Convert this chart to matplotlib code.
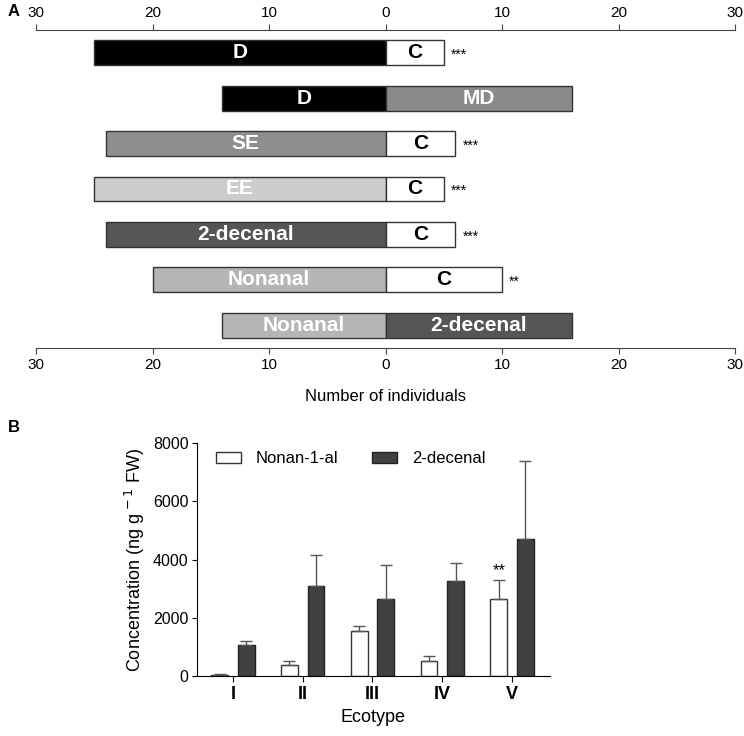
import numpy as np
import matplotlib.pyplot as plt

plt.rcParams['font.family'] = ['Liberation Sans', 'DejaVu Sans']

# panel A: choice tests
left_names = ['D', 'D', 'SE', 'EE', '2-decenal', 'Nonanal', 'Nonanal']
left_counts = [25, 14, 24, 25, 24, 20, 14]
right_names = ['C', 'MD', 'C', 'C', 'C', 'C', '2-decenal']
right_counts = [5, 16, 6, 5, 6, 10, 16]
signif = ['***', '', '***', '***', '***', '**', '']

# panel B: concentrations
ecotypes = ['I', 'II', 'III', 'IV', 'V']
nonanal_mean = [50, 380, 1530, 530, 2650]
nonanal_err = [35, 120, 200, 170, 650]
decenal_mean = [1060, 3100, 2630, 3250, 4720]
decenal_err = [150, 1040, 1170, 630, 2650]

colors = {'D': '#000000', 'C': '#ffffff', 'MD': '#8a8a8a', 'SE': '#8e8e8e',
          'EE': '#cdcdcd', '2-decenal': '#555555', 'Nonanal': '#b5b5b5'}
text_col = {'C': 'black'}

fig = plt.figure(figsize=(7.44, 7.36), dpi=100)

# ---- A ----
axA = fig.add_axes([36 / 744, 1 - 348 / 736, 699 / 744, 318 / 736])
y = np.arange(len(left_names))
for i in y:
    axA.barh(i, -left_counts[i], height=0.55, color=colors[left_names[i]],
             edgecolor='#333333', linewidth=1)
    axA.barh(i, right_counts[i], height=0.55, color=colors[right_names[i]],
             edgecolor='#333333', linewidth=1)
    axA.text(-left_counts[i] / 2, i, left_names[i], ha='center', va='center',
             color=text_col.get(left_names[i], 'white'), fontsize=15,
             fontweight='bold')
    axA.text(right_counts[i] / 2, i, right_names[i], ha='center', va='center',
             color=text_col.get(right_names[i], 'white'), fontsize=15,
             fontweight='bold')
    if signif[i]:
        axA.text(right_counts[i] + 0.6, i + 0.05, signif[i], ha='left',
                 va='center', fontsize=10)

axA.set_xlim(-30, 30)
axA.set_ylim(len(left_names) - 0.5, -0.5)
ticks = [-30, -20, -10, 0, 10, 20, 30]
axA.set_xticks(ticks)
axA.set_xticklabels([str(abs(t)) for t in ticks], fontsize=11)
axA.tick_params(axis='x', top=True, labeltop=True, length=4, pad=3.5,
                color='#444444')
axA.set_yticks([])
for s in ['left', 'right']:
    axA.spines[s].set_visible(False)
for s in ['top', 'bottom']:
    axA.spines[s].set_color('#444444')
axA.set_xlabel('Number of individuals', fontsize=12, labelpad=12)
fig.text(8 / 744, 1 - 12 / 736, 'A', fontsize=12, fontweight='bold', va='center')

# ---- B ----
axB = fig.add_axes([197 / 744, 1 - 676 / 736, 353 / 744, 233 / 736])
x = np.arange(len(ecotypes))
w = 0.24
off = 0.19
axB.bar(x - off, nonanal_mean, w, color='white', edgecolor='#333333',
        linewidth=1, label='Nonan-1-al')
axB.bar(x + off, decenal_mean, w, color='#404040', edgecolor='#222222',
        linewidth=1, label='2-decenal')
axB.errorbar(x - off, nonanal_mean, yerr=[np.zeros(5), nonanal_err], fmt='none',
             ecolor='#555555', elinewidth=1, capsize=4)
axB.errorbar(x + off, decenal_mean, yerr=[np.zeros(5), decenal_err], fmt='none',
             ecolor='#555555', elinewidth=1, capsize=4)
axB.text(x[4] - off, nonanal_mean[4] + nonanal_err[4] + 50, '**', ha='center',
         va='bottom', fontsize=12)

axB.set_xlim(-0.514, 4.543)
axB.set_ylim(0, 8000)
axB.set_yticks([0, 2000, 4000, 6000, 8000])
axB.set_xticks(x)
axB.set_xticklabels(ecotypes, fontweight='bold', fontsize=13)
axB.tick_params(axis='y', labelsize=11.5, length=3.5, pad=2.5)
axB.tick_params(axis='x', length=4)
for s in ['top', 'right']:
    axB.spines[s].set_visible(False)
axB.set_ylabel('Concentration (ng g$^{\\,-1}$ FW)', fontsize=13)
axB.set_xlabel('Ecotype', fontsize=13)
axB.legend(loc='upper left', ncol=2, frameon=False, fontsize=12,
           handlelength=1.5, handleheight=0.7, handletextpad=0.9,
           columnspacing=2.0, borderpad=0, bbox_to_anchor=(0.03, 1.0))
fig.text(8 / 744, 1 - 427 / 736, 'B', fontsize=12, fontweight='bold', va='center')

fig.savefig('out.png', dpi=100)
